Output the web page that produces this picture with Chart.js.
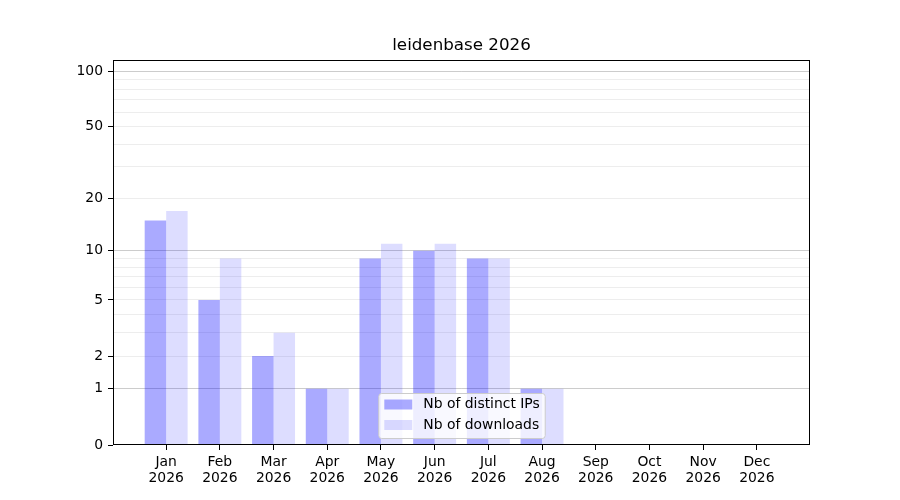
<!DOCTYPE html>
<html><head><meta charset="utf-8">
<script src="https://cdn.jsdelivr.net/npm/chart.js@4/dist/chart.umd.min.js"></script>
<style>html,body{margin:0;padding:0;background:#fff;} canvas{display:block;}</style>
</head><body>
<canvas id="c" width="900" height="500"></canvas>
<script>
// ---- data ----
const titleText = 'leidenbase 2026';
const months = ['Jan','Feb','Mar','Apr','May','Jun','Jul','Aug','Sep','Oct','Nov','Dec'];
const yearLabel = '2026';
const seriesNames = ['Nb of distinct IPs', 'Nb of downloads'];
const distinctIPs = [15, 5, 2, 1, 9, 10, 9, 1, 0, 0, 0, 0];
const downloads   = [17, 9, 3, 1, 11, 11, 9, 1, 0, 0, 0, 0];
const yTickValues = [0,1,2,3,4,5,6,7,8,9,10,20,30,40,50,60,70,80,90,100];
const yTickLabels = [0,1,2,5,10,20,50,100];
const yMajorGrid  = [1,10,100];
const yMin = 0, yMax = 115;
const xMin = -0.99, xMax = 11.99;

// ---- log(1+x) scale ----
class Log1pScale extends Chart.Scale {
  determineDataLimits() {
    this.min = this.options.min ?? 0;
    this.max = this.options.max ?? 1;
  }
  buildTicks() { return yTickValues.map(v => ({ value: v })); }
  getLabelForValue(v) { return String(v); }
  configure() {
    super.configure();
    this._s = Math.log10(1 + this.min);
    this._r = Math.log10(1 + this.max) - this._s;
  }
  getPixelForValue(v) {
    if (v === null || v === undefined || isNaN(v)) return NaN;
    return this.getPixelForDecimal((Math.log10(1 + v) - this._s) / this._r);
  }
  getValueForPixel(p) {
    return Math.pow(10, this._s + this.getDecimalForPixel(p) * this._r) - 1;
  }
}
Log1pScale.id = 'log1p';
Log1pScale.defaults = {};
Chart.register(Log1pScale);

Chart.defaults.font.family = '"DejaVu Sans", sans-serif';
Chart.defaults.color = '#000';

const colIP = 'rgba(0,0,255,0.333)';
const colDL = 'rgba(0,0,255,0.133)';

const framePlugin = {
  id: 'frame',
  afterDatasetsDraw(chart) {
    const a = chart.chartArea, ctx = chart.ctx;
    ctx.save();
    ctx.strokeStyle = '#000';
    ctx.lineWidth = 1;
    const l = Math.round(a.left) + 0.5, r = Math.round(a.right) - 0.5;
    const t = Math.round(a.top) + 0.5, b = Math.round(a.bottom) - 0.5;
    ctx.strokeRect(l, t, r - l, b - t);
    ctx.restore();
  }
};

const innerLegend = {
  id: 'innerLegend',
  afterDraw(chart) {
    const a = chart.chartArea, ctx = chart.ctx;
    const fs = 13.9;
    ctx.save();
    ctx.font = fs + 'px "DejaVu Sans"';
    const items = chart.data.datasets.map(d => ({ label: d.label, color: d.backgroundColor }));
    const tw = Math.max(...items.map(i => ctx.measureText(i.label).width));
    const padL = 6, patchW = 28, gap = 11, padR = 5;
    const w = padL + patchW + gap + tw + padR;
    const h = 45;
    const x = (a.left + a.right) / 2 - w / 2;
    const y = a.bottom - 7 - h;
    ctx.beginPath();
    if (ctx.roundRect) ctx.roundRect(x + 0.5, y + 0.5, w, h, 3); else ctx.rect(x + 0.5, y + 0.5, w, h);
    ctx.fillStyle = 'rgba(255,255,255,0.8)';
    ctx.fill();
    ctx.strokeStyle = '#cccccc';
    ctx.lineWidth = 1;
    ctx.stroke();
    items.forEach((it, i) => {
      const cy = y + 11.5 + i * 20.5;
      ctx.fillStyle = it.color;
      ctx.fillRect(x + padL, cy - 5, patchW, 10);
      ctx.fillStyle = '#000';
      ctx.textBaseline = 'middle';
      ctx.textAlign = 'left';
      ctx.fillText(it.label, x + padL + patchW + gap, cy);
    });
    ctx.restore();
  }
};

function yGridColor(v) {
  if (v === 0) return 'rgba(0,0,0,0)';
  if (yMajorGrid.includes(v)) return 'rgba(0,0,0,0.2)';
  return 'rgba(0,0,0,0.07)';
}

new Chart(document.getElementById('c'), {
  type: 'bar',
  data: {
    datasets: [
      { label: seriesNames[0], data: distinctIPs.map((v, i) => ({ x: i, y: v })),
        backgroundColor: colIP, borderWidth: 0, inflateAmount: 0, categoryPercentage: 0.8, barPercentage: 1.0 },
      { label: seriesNames[1], data: downloads.map((v, i) => ({ x: i, y: v })),
        backgroundColor: colDL, borderWidth: 0, inflateAmount: 0, categoryPercentage: 0.8, barPercentage: 1.0 }
    ]
  },
  options: {
    responsive: false,
    animation: false,
    devicePixelRatio: 1,
    layout: { padding: { left: 0, right: 90, top: 0, bottom: 0 } },
    plugins: {
      legend: { display: false },
      tooltip: { enabled: false },
      title: {
        display: true, text: titleText, fullSize: false, color: '#000',
        font: { size: 16.7, weight: 'normal', lineHeight: 1.2 },
        padding: { top: 35.8, bottom: 4.2 }
      }
    },
    scales: {
      x: {
        type: 'linear', min: xMin, max: xMax, offset: false,
        afterBuildTicks(s) { s.ticks = months.map((m, i) => ({ value: i })); },
        afterFit(s) { s.height = 55; },
        ticks: {
          autoSkip: false, maxRotation: 0, minRotation: 0, padding: 5, color: '#000',
          font: { size: 13.9, lineHeight: 1.12 },
          callback: (v) => [months[Math.round(v)], yearLabel]
        },
        grid: { drawOnChartArea: false, drawTicks: true, tickLength: 5, tickColor: '#000', offset: false },
        border: { display: false }
      },
      y: {
        type: 'log1p', min: yMin, max: yMax,
        afterFit(s) { s.width = 113; },
        ticks: {
          autoSkip: false, padding: 5, color: '#000', font: { size: 13.9 },
          callback: (v) => yTickLabels.includes(v) ? String(v) : ''
        },
        grid: {
          color: (c) => yGridColor(c.tick ? c.tick.value : 0),
          tickColor: (c) => (c.tick && yTickLabels.includes(c.tick.value)) ? '#000' : 'rgba(0,0,0,0)',
          tickLength: 5, lineWidth: 1, drawTicks: true
        },
        border: { display: false }
      }
    }
  },
  plugins: [framePlugin, innerLegend]
});
</script>
</body></html>
